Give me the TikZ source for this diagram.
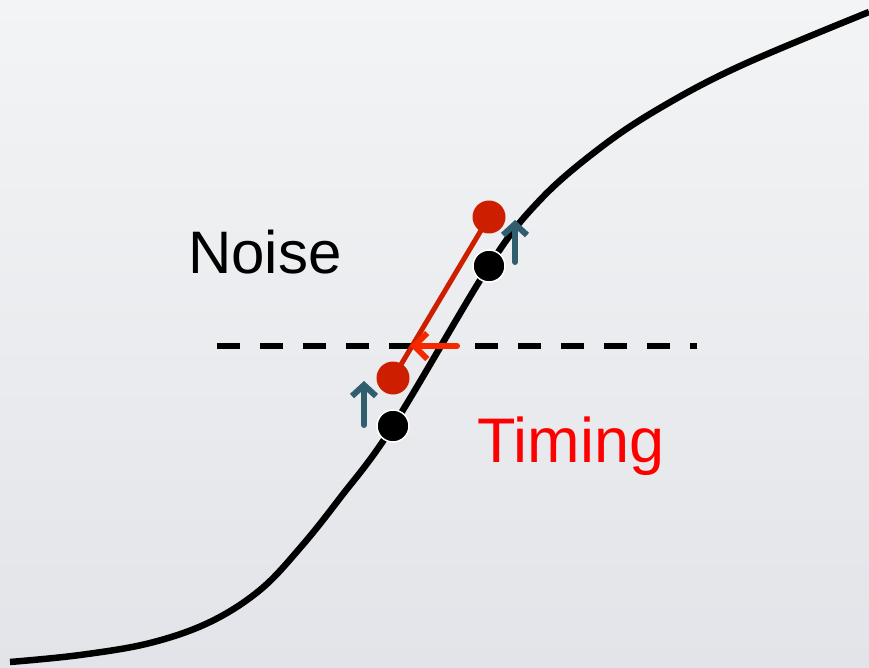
\documentclass[tikz,border=0pt]{standalone}
\usepackage{fontspec}
\setmainfont{Liberation Sans}
\usepackage{xcolor}
\usetikzlibrary{arrows.meta}
\definecolor{bgtop}{RGB}{243,244,245}
\definecolor{bgbot}{RGB}{226,228,233}
\definecolor{dotred}{RGB}{206,30,0}
\definecolor{pullred}{RGB}{245,40,0}
\definecolor{shiftcol}{RGB}{48,94,110}
\definecolor{lblred}{RGB}{255,0,0}

\begin{document}
\begin{tikzpicture}[x=1pt, y=-1pt,
    dot/.style={circle,fill=black,draw=white,line width=1.5pt,minimum size=32pt,inner sep=0pt},
    rdot/.style={circle,fill=dotred,minimum size=33pt,inner sep=0pt},
    shiftarr/.style={-{Straight Barb[length=11pt,width=24pt]},line width=6pt,line cap=round,draw=shiftcol},
    lbl/.style={font=\fontsize{60}{70}\selectfont}]

  % background
  \shade[top color=bgtop, bottom color=bgbot] (0,0) rectangle (869,668);
  \useasboundingbox (0,0) rectangle (869,668);

  % transfer curve
  \draw[line width=6.5pt] plot[smooth, tension=0.6] coordinates {(10,662) (80,655) (150,643) (210,622) (260,590) (300,548) (340,498) (393,426) (489,266) (540,200) (600,148) (660,108) (740,66) (869,12)};

  % threshold
  \coordinate (thl) at (217,346);
  \coordinate (thr) at (697,346);
  \draw[line width=5.5pt, dash pattern=on 23pt off 20pt] (thl) -- (thr);

  % points on the curve
  \node[dot] (b1) at (489,266) {};
  \node[dot] (b2) at (393,426) {};

  % shifted points
  \draw[dotred, line width=5pt] (489,217) -- (393,378);
  \node[rdot] (r1) at (489,217) {};
  \node[rdot] (r2) at (393,378) {};

  % timing pull
  \coordinate (ps) at (457,346);
  \coordinate (pe) at (410,346);
  \draw[-{Straight Barb[length=13pt,width=26pt]}, pullred, line width=6pt, line cap=round] (ps) -- (pe);

  % noise bumps
  \coordinate (u1s) at (515,262);
  \coordinate (u1e) at (515,220);
  \coordinate (u2s) at (364,425);
  \coordinate (u2e) at (364,381);
  \draw[shiftarr] (u1s) -- (u1e);
  \draw[shiftarr] (u2s) -- (u2e);

  % labels
  \node[lbl] (noise) at (265,252) {Noise};
  \node[lbl, font=\fontsize{63}{72}\selectfont, text=lblred] (timing) at (571,446) {Timing};

\end{tikzpicture}
\end{document}
